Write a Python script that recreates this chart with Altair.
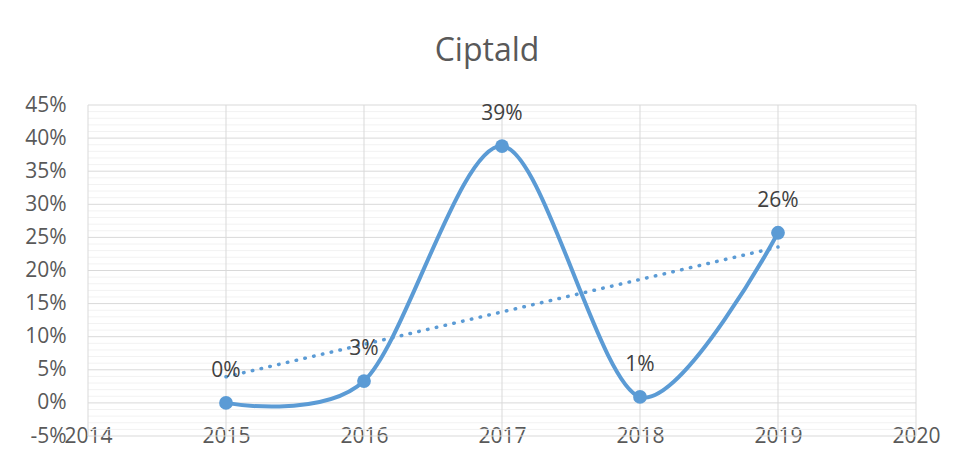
import altair as alt
import pandas as pd

# ---- data ----
years = [2015, 2016, 2017, 2018, 2019]
values = [0.0, 0.033, 0.388, 0.009, 0.257]

x_ticks = [2014, 2015, 2016, 2017, 2018, 2019, 2020]
y_ticks = [-0.05, 0.0, 0.05, 0.10, 0.15, 0.20, 0.25, 0.30, 0.35, 0.40, 0.45]
minor_ticks = [round(-0.05 + 0.01 * i, 2) for i in range(51)]
minor_ticks = [v for v in minor_ticks if round(v * 100) % 5 != 0]

df = pd.DataFrame({"year": years, "value": values})
df_minor = pd.DataFrame({"value": minor_ticks})
df_major = pd.DataFrame({"value": y_ticks})
df_vert = pd.DataFrame({"year": x_ticks})

FONT = "Open Sans"
BLUE = "#5B9BD5"

xscale = alt.Scale(domain=[2014, 2020], nice=False, zero=False)
yscale = alt.Scale(domain=[-0.05, 0.45], nice=False, zero=False)

xaxis = alt.Axis(values=x_ticks, format="d", title=None, grid=False, domain=False,
                 ticks=False, tickSize=0, labelPadding=0, labelBaseline="middle",
                 labelFontSize=21, labelColor="#595959", labelFont=FONT, labelFlush=False)
yaxis = alt.Axis(values=y_ticks, title=None, grid=False, domain=False, ticks=False,
                 tickSize=0, labelPadding=22, labelFontSize=21, labelColor="#595959",
                 labelFont=FONT,
                 labelExpr="replace(format(datum.value, '.0%'), '\u2212', '-')")

X = alt.X("year:Q", scale=xscale, axis=xaxis)
Y = alt.Y("value:Q", scale=yscale, axis=yaxis)

minor = alt.Chart(df_minor).mark_rule(color="#F2F2F2", strokeWidth=1).encode(y=Y)
major = alt.Chart(df_major).mark_rule(color="#D9D9D9", strokeWidth=1).encode(y=Y)
vert = alt.Chart(df_vert).mark_rule(color="#D9D9D9", strokeWidth=1).encode(x=X)

line = alt.Chart(df).mark_line(interpolate="cardinal", tension=0.1, color=BLUE,
                               strokeWidth=4).encode(x=X, y=Y)
trend = alt.Chart(df).transform_regression("year", "value").mark_line(
    color=BLUE, strokeWidth=3.5, strokeDash=[0.5, 8.5], strokeCap="round").encode(x=X, y=Y)
points = alt.Chart(df).mark_circle(size=190, color=BLUE, opacity=1).encode(x=X, y=Y)
labels = alt.Chart(df).mark_text(dy=-32, fontSize=21, color="#404040", font=FONT,
                                 baseline="middle").encode(
    x=X, y=Y, text=alt.Text("value:Q", format=".0%"))

chart = alt.layer(minor, major, vert, line, trend, points, labels).properties(
    width=828, height=331,
    title=alt.Title("Ciptald", fontSize=32, color="#595959", font=FONT,
                    fontWeight="normal", anchor="middle", dx=-15, offset=26),
    autosize=alt.AutoSizeParams(type="none"),
    padding={"left": 80, "top": 97, "right": 32, "bottom": 20},
    background="white",
).configure_view(stroke=None)

chart.save("out.html", embed_options={"renderer": "svg", "actions": False})
